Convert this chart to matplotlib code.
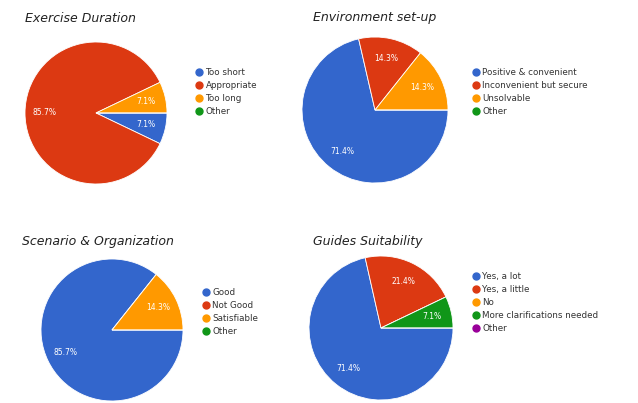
import matplotlib
matplotlib.use("Agg")
import matplotlib.pyplot as plt
from matplotlib.lines import Line2D

W, H = 638, 403

# Google chart colours
colors = ['#3366cc', '#dc3912', '#ff9900', '#109618', '#990099']

exercise_labels = ['Too short', 'Appropriate', 'Too long', 'Other']
exercise_values = [7.1, 85.7, 7.1, 0]

environment_labels = ['Positive & convenient', 'Inconvenient but secure', 'Unsolvable', 'Other']
environment_values = [71.4, 14.3, 14.3, 0]

scenario_labels = ['Good', 'Not Good', 'Satisfiable', 'Other']
scenario_values = [85.7, 0, 14.3, 0]

guides_labels = ['Yes, a lot', 'Yes, a little', 'No', 'More clarifications needed', 'Other']
guides_values = [71.4, 21.4, 0, 7.1, 0]


def draw_pie(fig, title, labels, values, cx, cy, r, title_xy, legend_xy):
    """
    Draw one Google-style pie with its title and legend, positions in pixels
    """
    ax = fig.add_axes([(cx - r) / W, (H - cy - r) / H, 2 * r / W, 2 * r / H])
    wedges, _, autotexts = ax.pie(
        values, colors=colors[:len(values)], startangle=0, counterclock=False,
        autopct='%.1f', pctdistance=0.72,
        wedgeprops=dict(edgecolor='white', linewidth=0.6),
        textprops=dict(color='white', fontsize=5.5))
    # label with the values as read, not renormalised
    for t, v in zip(autotexts, values):
        t.set_text(f'{v:.1f}%' if v > 0 else '')
    ax.set_xlim(-1, 1)
    ax.set_ylim(-1, 1)
    ax.axis('off')

    fig.text(title_xy[0] / W, 1 - title_xy[1] / H, title, fontsize=9,
             style='italic', color='#222222', va='center', ha='left')

    handles = [Line2D([], [], marker='o', linestyle='', markersize=5,
                      markerfacecolor=c, markeredgecolor=c)
               for c in colors[:len(labels)]]
    fig.legend(handles, labels, loc='upper left',
               bbox_to_anchor=(legend_xy[0] / W, 1 - legend_xy[1] / H),
               frameon=False, fontsize=6.3, handletextpad=0.2,
               labelspacing=0.45, borderaxespad=0, borderpad=0,
               handlelength=1.0, labelcolor='#333333')


fig = plt.figure(figsize=(W / 100, H / 100), dpi=100)

draw_pie(fig, 'Exercise Duration', exercise_labels, exercise_values,
         96, 113, 71, (25, 18), (195, 68))
draw_pie(fig, 'Environment set-up', environment_labels, environment_values,
         375, 110, 73, (313, 18), (472, 68))
draw_pie(fig, 'Scenario & Organization', scenario_labels, scenario_values,
         112, 330, 71, (22, 241), (202, 288))
draw_pie(fig, 'Guides Suitability', guides_labels, guides_values,
         381, 328, 72, (313, 242), (472, 272))

fig.savefig('out.png', dpi=100)
